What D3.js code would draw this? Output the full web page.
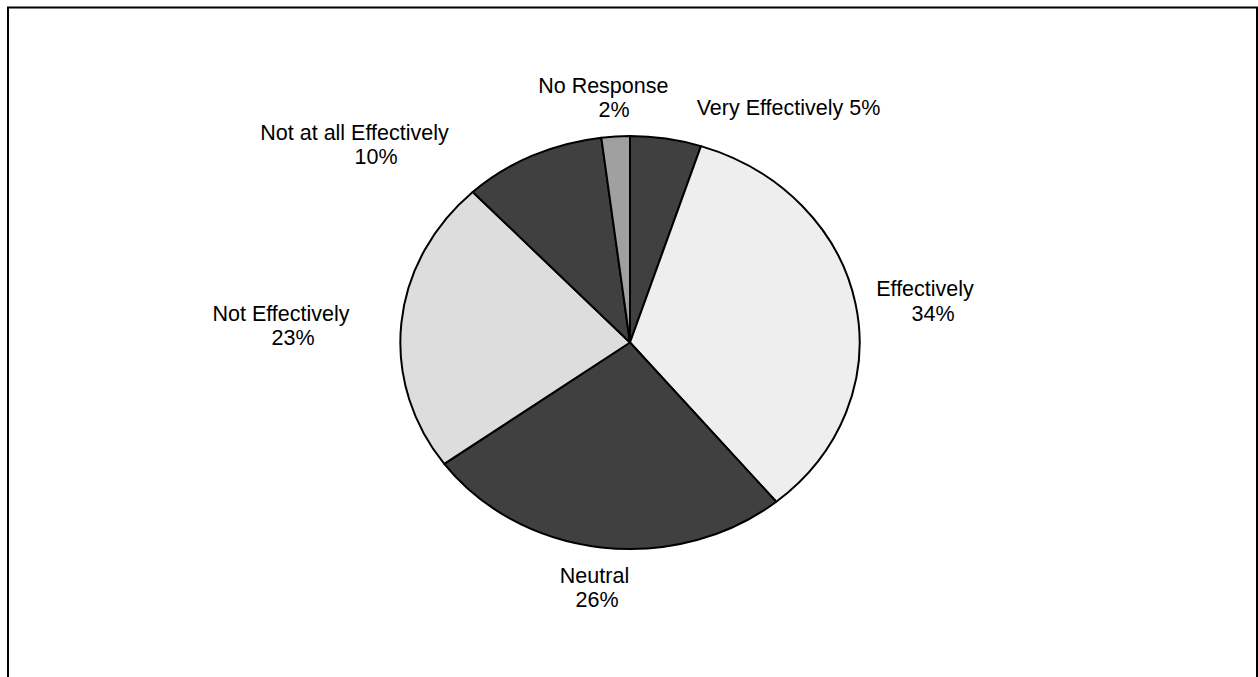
<!DOCTYPE html>
<html>
<head>
<meta charset="utf-8">
<script src="https://cdn.jsdelivr.net/npm/d3@7"></script>
<style>
  html, body { margin: 0; padding: 0; background: #fff; }
  svg { display: block; }
  text { font-family: "Liberation Sans", Arial, sans-serif; font-size: 21.5px; fill: #000; }
</style>
</head>
<body>
<svg id="chart" width="1258" height="677"></svg>
<script>
// ---- data ----
const categories = ["Very Effectively", "Effectively", "Neutral", "Not Effectively", "Not at all Effectively", "No Response"];
const values = [5, 34, 26, 23, 10, 2];
const fills = ["#404040", "#eeeeee", "#404040", "#dddddd", "#404040", "#a0a0a0"];
// label layout: each line's centre offset (dx, dy baseline) from pie centre
const labelLines = [
  [[categories[0] + " " + values[0] + "%", 158.5, -227.5]],
  [[categories[1], 295, -46.5], [values[1] + "%", 303, -21.5]],
  [[categories[2], -35.5, 240], [values[2] + "%", -33, 264.5]],
  [[categories[3], -349, -21.5], [values[3] + "%", -337, 2.5]],
  [[categories[4], -275.5, -202.5], [values[4] + "%", -254, -178.5]],
  [[categories[5], -26.7, -249.5], [values[5] + "%", -16, -225.5]]
];

const W = 1258, H = 677;
const cx = 630, cy = 342.5, rx = 229.6, ry = 206.5;

const svg = d3.select("#chart");

// outer frame
svg.append("rect")
  .attr("x", 8).attr("y", 7.5)
  .attr("width", 1249).attr("height", 700)
  .attr("fill", "none").attr("stroke", "#000").attr("stroke-width", 2);

const pie = d3.pie().sort(null).value(d => d)(values);
const arc = d3.arc().innerRadius(0).outerRadius(1);

const g = svg.append("g")
  .attr("transform", `translate(${cx},${cy}) scale(${rx},${ry})`);

g.selectAll("path")
  .data(pie)
  .join("path")
  .attr("d", arc)
  .attr("fill", (d, i) => fills[i])
  .attr("stroke", "#000")
  .attr("stroke-width", 2)
  .attr("stroke-linejoin", "round")
  .attr("vector-effect", "non-scaling-stroke");

const lg = svg.append("g").attr("transform", `translate(${cx},${cy})`);
labelLines.forEach(lines => {
  lines.forEach(([t, dx, dy]) => {
    lg.append("text")
      .attr("x", dx).attr("y", dy)
      .attr("text-anchor", "middle")
      .text(t);
  });
});
</script>
</body>
</html>
